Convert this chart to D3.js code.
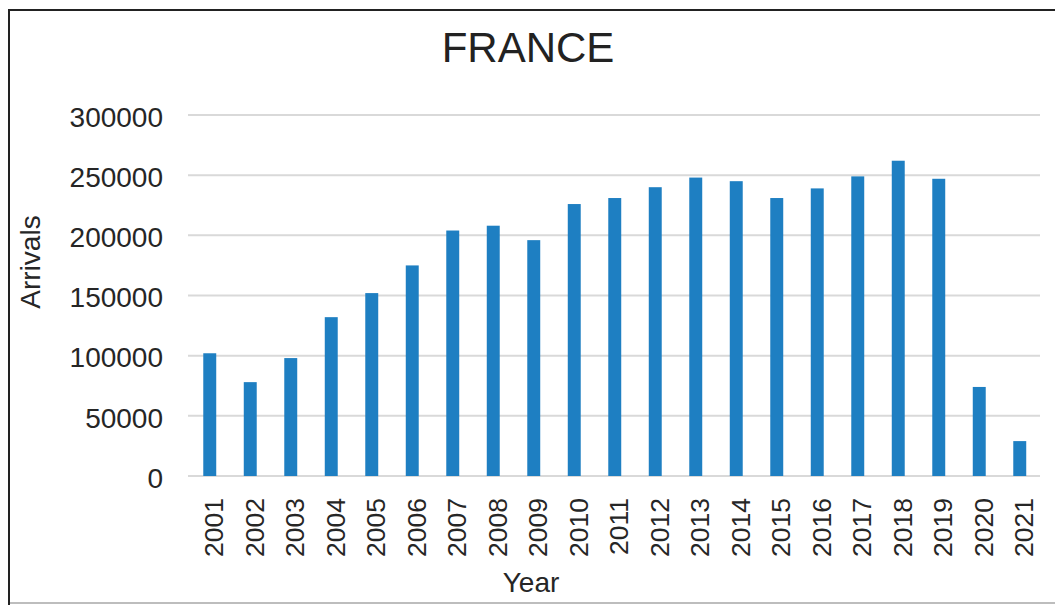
<!DOCTYPE html>
<html>
<head>
<meta charset="utf-8">
<script src="https://cdn.jsdelivr.net/npm/d3@7/dist/d3.min.js"></script>
<style>
  html, body { margin: 0; padding: 0; background: #fff; }
  svg { display: block; font-family: "Liberation Sans", Arial, sans-serif; }
</style>
</head>
<body>
<svg id="chart" width="1055" height="605"></svg>
<script>
const years = ["2001","2002","2003","2004","2005","2006","2007","2008","2009","2010","2011","2012","2013","2014","2015","2016","2017","2018","2019","2020","2021"];
const arrivals = [102000, 78000, 98000, 132000, 152000, 175000, 204000, 208000, 196000, 226000, 231000, 240000, 248000, 245000, 231000, 239000, 249000, 262000, 247000, 74000, 29000];
const yTicks = [0, 50000, 100000, 150000, 200000, 250000, 300000];
const titleText = "FRANCE";
const xTitle = "Year";
const yTitle = "Arrivals";

const svg = d3.select("#chart");
const W = 1055, H = 605;

// frame
svg.append("rect").attr("x", 0).attr("y", 0).attr("width", W).attr("height", H).attr("fill", "#fff");
svg.append("path").attr("d", `M9,${H} V10 H${W}`).attr("fill", "none").attr("stroke", "#222").attr("stroke-width", 2);
svg.append("line").attr("x1", 10).attr("x2", W).attr("y1", 603).attr("y2", 603).attr("stroke", "#bdbdbd").attr("stroke-width", 2);

const x = d3.scaleBand().domain(years).range([189.5, 1040]).paddingInner(0.68).paddingOuter(0.34);
const y = d3.scaleLinear().domain([0, 300000]).range([476, 115]);

// gridlines
svg.append("g").selectAll("line").data(yTicks).join("line")
  .attr("x1", 188).attr("x2", 1040)
  .attr("y1", d => y(d)).attr("y2", d => y(d))
  .attr("stroke", "#d9d9d9").attr("stroke-width", 2);

// y axis labels via d3 axis
const yAxis = svg.append("g").attr("transform", "translate(170,0)")
  .call(d3.axisLeft(y).tickValues(yTicks).tickSize(0).tickPadding(7).tickFormat(d3.format("d")));
yAxis.select(".domain").remove();
yAxis.selectAll("text").attr("font-size", 28).attr("fill", "#262626").attr("dy", "0.4em")
  .attr("font-family", "Liberation Sans, Arial, sans-serif");

// bars
svg.append("g").selectAll("rect").data(years).join("rect")
  .attr("x", d => x(d))
  .attr("width", x.bandwidth())
  .attr("y", (d, i) => y(arrivals[i]))
  .attr("height", (d, i) => y(0) - y(arrivals[i]))
  .attr("fill", "#1e7fc2");

// x axis labels (rotated)
svg.append("g").selectAll("text").data(years).join("text")
  .attr("transform", d => `translate(${x(d) + x.bandwidth() / 2 + 13.5},498) rotate(-90)`)
  .attr("text-anchor", "end")
  .attr("font-size", 26.5)
  .attr("fill", "#262626")
  .text(d => d);

// titles
svg.append("text").attr("x", 528).attr("y", 62).attr("text-anchor", "middle")
  .attr("font-size", 42).attr("fill", "#222").text(titleText);
svg.append("text").attr("x", 531).attr("y", 592).attr("text-anchor", "middle")
  .attr("font-size", 28).attr("fill", "#262626").text(xTitle);
svg.append("text").attr("transform", "translate(40,262) rotate(-90)").attr("text-anchor", "middle")
  .attr("font-size", 28).attr("fill", "#262626").text(yTitle);
</script>
</body>
</html>
